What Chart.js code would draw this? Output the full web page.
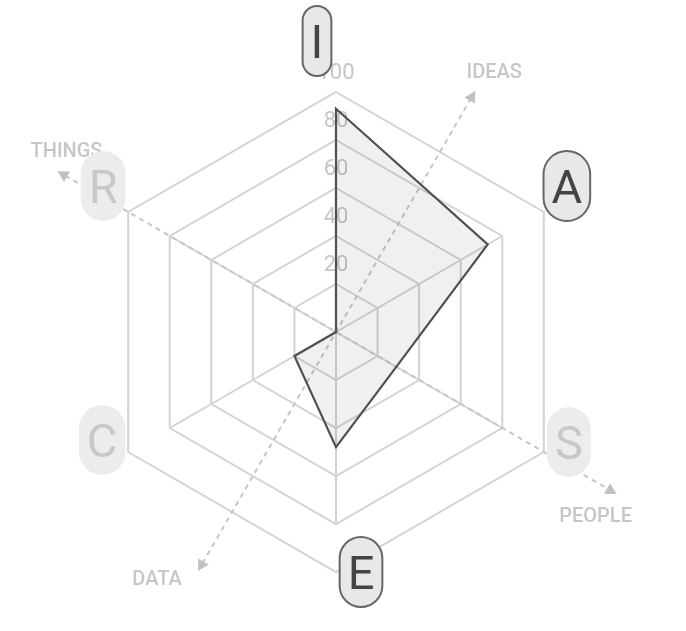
<!DOCTYPE html>
<html>
<head>
<meta charset="utf-8">
<script src="https://cdn.jsdelivr.net/npm/chart.js@4/dist/chart.umd.min.js"></script>
<style>
  html, body { margin: 0; padding: 0; background: #fff; }
  #wrap { width: 686px; height: 631px; position: relative; }
</style>
</head>
<body>
<div id="wrap"><canvas id="riasec"></canvas></div>
<script>
// RIASEC scores, clockwise from the top
const letters = ['I', 'A', 'S', 'E', 'C', 'R'];
const scores = [93, 73, 29, 48, 20, 0];
const topCode = ['I', 'A', 'E'];
const tickValues = [20, 40, 60, 80, 100];

// work-task dimensions drawn as dashed arrows
const axisNames = ['IDEAS', 'PEOPLE', 'DATA', 'THINGS'];
const axisIndex = [0.5, 2, 3.5, 5];
const axisReach = [116, 135, 115, 134];

const FONT = 'Roboto, "Open Sans", sans-serif';
const GRID = '#d3d3d3';
const LIGHT = '#c6c6c6';

// small nudges to place things like the original
const pillShift = [[-19, -51], [23, -26], [25, -10], [25, 0], [-26, -12], [-25, -26]];
const axisLabelShift = [[19, -18], [-21, 23], [-41, 9], [9, -19]];

function drawArrowHead(ctx, tip, from, size) {
    const a = Math.atan2(tip.y - from.y, tip.x - from.x);
    ctx.beginPath();
    ctx.moveTo(tip.x, tip.y);
    ctx.lineTo(tip.x - size * Math.cos(a) + size * 0.55 * Math.sin(a), tip.y - size * Math.sin(a) - size * 0.55 * Math.cos(a));
    ctx.lineTo(tip.x - size * Math.cos(a) - size * 0.55 * Math.sin(a), tip.y - size * Math.sin(a) + size * 0.55 * Math.cos(a));
    ctx.closePath();
    ctx.fill();
}

const hexDecor = {
    id: 'hexDecor',
    beforeDatasetsDraw(chart) {
        const ctx = chart.ctx;
        const s = chart.scales.r;
        ctx.save();

        // spokes only reach the 80 ring
        ctx.strokeStyle = GRID;
        ctx.lineWidth = 2;
        const spokeLen = s.getDistanceFromCenterForValue(80);
        letters.forEach((l, i) => {
            const p = s.getPointPosition(i, spokeLen);
            ctx.beginPath();
            ctx.moveTo(s.xCenter, s.yCenter);
            ctx.lineTo(p.x, p.y);
            ctx.stroke();
        });

        // tick labels sit a little above their ring
        ctx.fillStyle = LIGHT;
        ctx.font = '22px ' + FONT;
        ctx.textAlign = 'center';
        ctx.textBaseline = 'middle';
        tickValues.forEach(v => {
            const d = s.getDistanceFromCenterForValue(v);
            ctx.fillText(String(v), s.xCenter, s.yCenter - d - 19);
        });

        // dashed arrows through the centre
        const tips = axisNames.map((n, k) => s.getPointPosition(axisIndex[k], s.getDistanceFromCenterForValue(axisReach[k])));
        const pairs = [[0, 2], [1, 3]];
        ctx.strokeStyle = LIGHT;
        ctx.lineWidth = 2;
        ctx.setLineDash([5, 4.5]);
        pairs.forEach(([a, b]) => {
            const ta = tips[a], tb = tips[b];
            const len = Math.hypot(ta.x - tb.x, ta.y - tb.y);
            const ux = (ta.x - tb.x) / len, uy = (ta.y - tb.y) / len;
            ctx.beginPath();
            ctx.moveTo(tb.x + ux * 9, tb.y + uy * 9);
            ctx.lineTo(ta.x - ux * 9, ta.y - uy * 9);
            ctx.stroke();
        });
        ctx.setLineDash([]);
        ctx.fillStyle = '#c0c0c0';
        tips.forEach(t => drawArrowHead(ctx, t, { x: s.xCenter, y: s.yCenter }, 11));

        ctx.fillStyle = LIGHT;
        ctx.font = '500 20px ' + FONT;
        axisNames.forEach((n, k) => {
            ctx.fillText(n, tips[k].x + axisLabelShift[k][0], tips[k].y + axisLabelShift[k][1]);
        });
        ctx.restore();
    },
    afterDatasetsDraw(chart) {
        const ctx = chart.ctx;
        const s = chart.scales.r;
        ctx.save();
        ctx.font = '47px ' + FONT;
        ctx.textAlign = 'center';
        ctx.textBaseline = 'alphabetic';
        letters.forEach((l, i) => {
            const v = s.getPointPosition(i, s.drawingArea);
            const cx = v.x + pillShift[i][0];
            const cy = v.y + pillShift[i][1];
            const w = ctx.measureText(l).width + 16;
            const h = 70;
            const on = topCode.includes(l);
            ctx.beginPath();
            ctx.roundRect(cx - w / 2, cy - h / 2, w, h, w / 2);
            ctx.fillStyle = on ? '#e8e8e8' : '#ececec';
            ctx.fill();
            if (on) {
                ctx.strokeStyle = '#666';
                ctx.lineWidth = 2;
                ctx.stroke();
            }
            ctx.fillStyle = on ? '#444' : '#c8c8c8';
            ctx.fillText(l, cx, cy + 17);
        });
        ctx.restore();
    }
};

new Chart('riasec', {
    type: 'radar',
    data: {
        labels: letters,
        datasets: [{
            data: scores,
            borderColor: '#505050',
            borderWidth: 2.2,
            backgroundColor: 'rgba(0,0,0,0.06)',
            fill: true,
            pointRadius: 0,
            pointHoverRadius: 0,
            tension: 0
        }]
    },
    options: {
        responsive: true,
        maintainAspectRatio: false,
        animation: false,
        layout: { padding: { left: 96, right: 110, top: 92, bottom: 59 } },
        plugins: {
            legend: { display: false },
            tooltip: { enabled: false }
        },
        scales: {
            r: {
                min: 0,
                max: 100,
                ticks: { stepSize: 20, display: false },
                grid: { color: GRID, lineWidth: 2 },
                angleLines: { display: false },
                pointLabels: { display: false }
            }
        }
    },
    plugins: [hexDecor]
});
</script>
</body>
</html>
